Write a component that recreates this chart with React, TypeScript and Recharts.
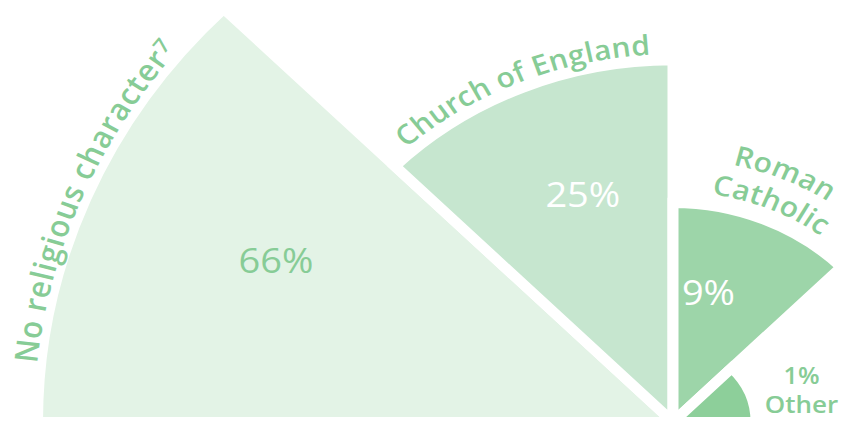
import { PieChart, Pie } from "recharts";

// one 45° wedge per category, area proportional to the share
const categories = ["No religious character", "Church of England", "Roman Catholic", "Other"];
const shares = [66, 25, 9, 1];
const nameLines = [["No religious character"], ["Church of England"], ["Roman", "Catholic"], ["Other"]];
const footnotes = ["7", "", "", ""];

const colors = ["#e3f3e6", "#c6e6cf", "#9dd5a9", "#8dcf9a"];
const GREEN_TEXT = "#87cc96";
const FONT = "'Open Sans', sans-serif";

// the source image is squashed vertically, so the whole chart is scaled in y
const SY = 0.92;
const W = 843;
const H = Math.round(422 / SY);
const CX = 673;
const CY = 422 / SY;
const K = 630 / Math.sqrt(66); // px of radius per sqrt(%)
const GAP = 11;
const SPAN = 180 / shares.length;

// value label placement: angle (deg) and fraction of the wedge radius
const valuePos = [
  { a: 156, f: 0.69 },
  { a: 110, f: 0.68 },
  { a: 76, f: 0.63 },
];
// baseline offsets of the curved name lines outside the arc
const nameOffsets = [[9], [12], [53, 18]];
const nameSizes = [32, 30, 30];
const nameSpacing = [0.9, 0.3, 0.3];

const rad = (a: number) => (a * Math.PI) / 180;
const pt = (r: number, a: number): [number, number] => [
  CX + r * Math.cos(rad(a)),
  CY - r * Math.sin(rad(a)),
];
const arcPath = (r: number, a0: number, a1: number) => {
  const [x0, y0] = pt(r, a0);
  const [x1, y1] = pt(r, a1);
  return `M${x0},${y0} A${r},${r} 0 0 1 ${x1},${y1}`;
};

const visRadius = (v: number) => K * Math.sqrt(v);

function renderLabel(i: number) {
  return () => {
    const v = shares[i];
    const r = visRadius(v);
    const mid = 180 - (i + 0.5) * SPAN;

    if (i === shares.length - 1) {
      const x = CX + r + 51;
      return (
        <g>
          <text x={x} y={CY - 51} textAnchor="middle" dominantBaseline="central" fill={GREEN_TEXT} fontFamily={FONT} fontSize={25} fontWeight={600}>
            {v}%
          </text>
          <text x={x} y={CY - 20} textAnchor="middle" dominantBaseline="central" fill={GREEN_TEXT} fontFamily={FONT} fontSize={26} fontWeight={600}>
            {nameLines[i][0]}
          </text>
        </g>
      );
    }

    const [vx, vy] = pt(r * valuePos[i].f, valuePos[i].a);
    return (
      <g>
        <text x={vx} y={vy} textAnchor="middle" dominantBaseline="central" fill={i === 0 ? GREEN_TEXT : "#ffffff"} fontFamily={FONT} fontSize={38} fontWeight={500}>
          {v}%
        </text>
        {nameLines[i].map((line, j) => {
          const id = `name-${i}-${j}`;
          return (
            <g key={id}>
              <path id={id} d={arcPath(r + nameOffsets[i][j], mid + 40, mid - 40)} fill="none" />
              <text fill={GREEN_TEXT} fontFamily={FONT} fontSize={nameSizes[i]} fontWeight={600} letterSpacing={nameSpacing[i]}>
                <textPath href={`#${id}`} startOffset="50%" textAnchor="middle">
                  {line}
                  {footnotes[i] && j === nameLines[i].length - 1 ? (
                    <tspan fontSize={22} dy={-8}>{footnotes[i]}</tspan>
                  ) : null}
                </textPath>
              </text>
            </g>
          );
        })}
      </g>
    );
  };
}

export default function App() {
  return (
    <div
      style={{
        position: "absolute",
        left: 0,
        top: 0,
        width: W,
        height: H,
        transform: `scaleY(${SY})`,
        transformOrigin: "0 0",
        background: "#fff",
      }}
    >
      <PieChart width={W} height={H} margin={{ top: 0, right: 0, bottom: 0, left: 0 }}>
        {shares.map((v, i) => (
          <Pie
            key={categories[i]}
            data={[{ name: categories[i], value: v }]}
            dataKey="value"
            nameKey="name"
            cx={CX}
            cy={CY}
            innerRadius={0}
            outerRadius={visRadius(v) + GAP / 2}
            startAngle={180 - i * SPAN}
            endAngle={180 - (i + 1) * SPAN}
            fill={colors[i]}
            stroke="#ffffff"
            strokeWidth={GAP}
            labelLine={false}
            label={renderLabel(i)}
            isAnimationActive={false}
          />
        ))}
      </PieChart>
    </div>
  );
}
